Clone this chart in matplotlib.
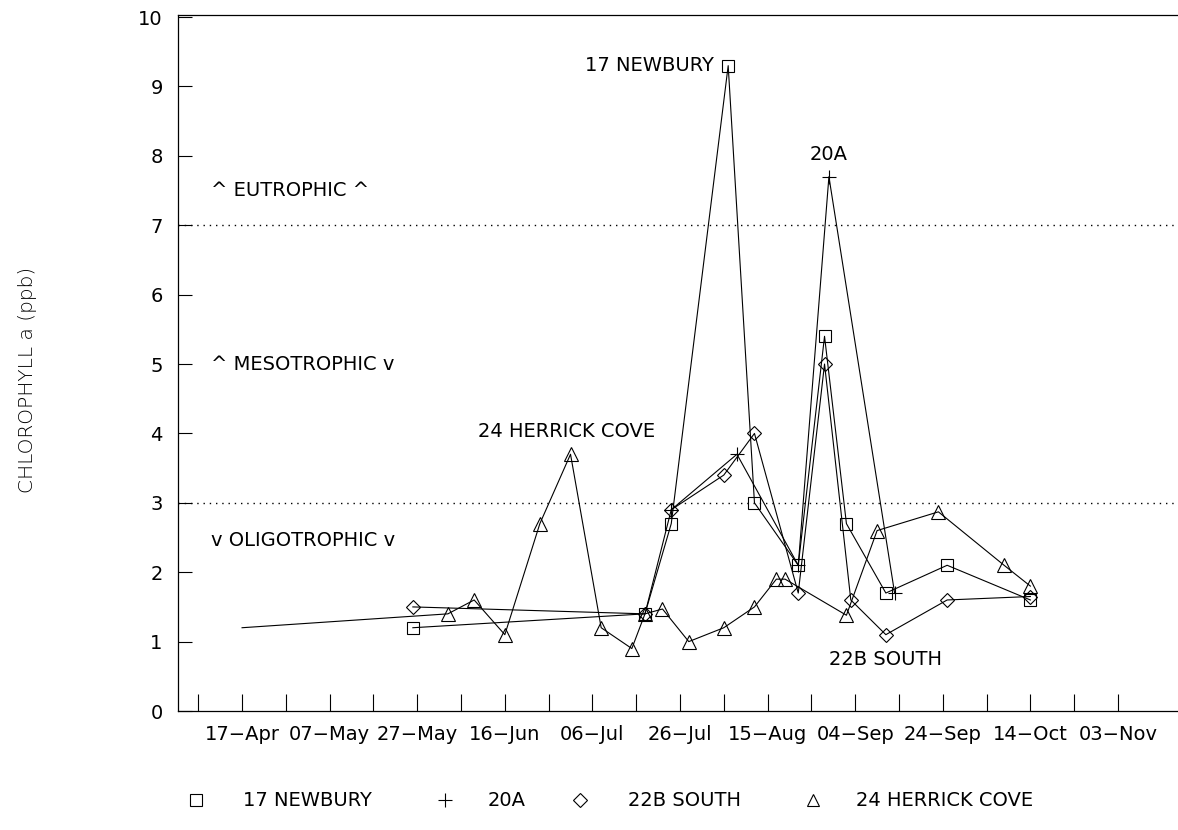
import numpy as np
import matplotlib
matplotlib.use("Agg")
import matplotlib.pyplot as plt
import matplotlib.dates as mdates
from matplotlib.transforms import blended_transform_factory

plt.rcParams['font.family'] = ['DejaVu Sans']

YEAR = '1990'

# ---------------- data ----------------
newbury_dates = ['05-26', '07-18', '07-24', '08-06', '08-12', '08-22', '08-28',
                 '09-02', '09-11', '09-25', '10-14']
newbury_vals = [1.2, 1.4, 2.7, 9.3, 3.0, 2.1, 5.4, 2.7, 1.7, 2.1, 1.6]

a20_dates = ['07-24', '08-08', '08-22', '08-29', '09-13']
a20_vals = [2.9, 3.7, 2.1, 7.7, 1.7]

south_dates = ['05-26', '07-18', '07-24', '08-05', '08-12', '08-22', '08-28',
               '09-03', '09-11', '09-25', '10-14']
south_vals = [1.5, 1.4, 2.9, 3.4, 4.0, 1.7, 5.0, 1.6, 1.1, 1.6, 1.65]

herrick_dates = ['04-17', '06-03', '06-09', '06-16', '06-24', '07-01', '07-08',
                 '07-15', '07-18', '07-22', '07-28', '08-05', '08-12', '08-17',
                 '08-19', '09-02', '09-09', '09-23', '10-08', '10-14']
herrick_vals = [1.2, 1.4, 1.6, 1.1, 2.7, 3.7, 1.2, 0.9, 1.4, 1.47, 1.0, 1.2,
                1.5, 1.9, 1.9, 1.38, 2.6, 2.87, 2.1, 1.8]

series_names = ['17 NEWBURY', '20A', '22B SOUTH', '24 HERRICK COVE']

tick_dates = ['04-17', '05-07', '05-27', '06-16', '07-06', '07-26', '08-15',
              '09-04', '09-24', '10-14', '11-03']
tick_labels = ['17\u2212Apr', '07\u2212May', '27\u2212May', '16\u2212Jun',
               '06\u2212Jul', '26\u2212Jul', '15\u2212Aug', '04\u2212Sep',
               '24\u2212Sep', '14\u2212Oct', '03\u2212Nov']

y_ticks = list(range(0, 11))
trophic_levels = [7, 3]
trophic_labels = ['^ EUTROPHIC ^', '^ MESOTROPHIC v', 'v OLIGOTROPHIC v']
trophic_label_y = [7.5, 5.0, 2.45]


def to_dates(lst):
    return np.array(['%s-%s' % (YEAR, s) for s in lst], dtype='datetime64[D]')


# ---------------- figure ----------------
W, H = 1178, 830
fig = plt.figure(figsize=(W / 100, H / 100), dpi=100)
ax_left, ax_right, ax_top, ax_bot = 178, 1178, 15, 711
ax = fig.add_axes([ax_left / W, 1 - ax_bot / H,
                   (ax_right - ax_left) / W, (ax_bot - ax_top) / H])

x0 = np.datetime64(YEAR + '-04-17')
px_per_day = 4.38
xmin = x0 + np.timedelta64(int(round(-(242 - ax_left) / px_per_day * 24)), 'h')
xmax = x0 + np.timedelta64(int(round((ax_right - 242) / px_per_day * 24)), 'h')
ax.set_xlim(mdates.date2num(xmin), mdates.date2num(xmax))
ax.set_ylim(0, 10.03)

lw = 0.8
common = dict(color='black', lw=lw, mec='black', mfc='none', mew=0.8)
ax.plot(to_dates(newbury_dates), newbury_vals, marker='s', ms=9, **common)
ax.plot(to_dates(a20_dates), a20_vals, marker='+', ms=10, **common)
ax.plot(to_dates(south_dates), south_vals, marker='D', ms=7, **common)
ax.plot(to_dates(herrick_dates), herrick_vals, marker='^', ms=10,
        markevery=list(range(1, len(herrick_vals))), **common)

for lvl in trophic_levels:
    ax.axhline(lvl, color='black', lw=1.0, ls=(0, (1, 3.5)))

# spines / ticks
ax.spines['right'].set_visible(False)
for s in ['left', 'bottom', 'top']:
    ax.spines[s].set_linewidth(0.9)

FS = 14
ax.set_xticks(mdates.date2num(to_dates(tick_dates)))
ax.set_xticklabels(tick_labels, fontsize=FS)
minor = np.arange(x0 - np.timedelta64(10, 'D'), to_dates(['11-04'])[0],
                  np.timedelta64(10, 'D'))
ax.set_xticks(mdates.date2num(minor), minor=True)
ax.tick_params(axis='x', which='both', direction='in', length=12, width=0.8,
               pad=10, top=False)
ax.set_yticks(y_ticks)
ax.set_yticklabels([str(v) for v in y_ticks], fontsize=FS)
ax.tick_params(axis='y', direction='in', length=10, width=0.8, pad=11)

# trophic labels
tr = blended_transform_factory(ax.transAxes, ax.transData)
for lab, yv in zip(trophic_labels, trophic_label_y):
    ax.text(0.033, yv, lab, transform=tr, fontsize=FS, ha='left', va='center')

# annotations near peaks
ax.annotate(series_names[0], xy=(mdates.date2num(to_dates([newbury_dates[3]])[0]), newbury_vals[3]),
            xytext=(-14, 0), textcoords='offset pixels', ha='right', va='center', fontsize=FS)
ax.annotate(series_names[1], xy=(mdates.date2num(to_dates([a20_dates[3]])[0]), a20_vals[3]),
            xytext=(0, 22), textcoords='offset pixels', ha='center', va='center', fontsize=FS)
ax.annotate(series_names[2], xy=(mdates.date2num(to_dates([south_dates[8]])[0]), south_vals[8]),
            xytext=(0, -25), textcoords='offset pixels', ha='center', va='center', fontsize=FS)
ax.annotate(series_names[3], xy=(mdates.date2num(to_dates([herrick_dates[5]])[0]), herrick_vals[5]),
            xytext=(-4, 23), textcoords='offset pixels', ha='center', va='center', fontsize=FS)

# y label
fig.text(28 / W, 1 - 380 / H, 'CHLOROPHYLL a (ppb)', rotation=90, ha='center',
         va='center', fontsize=14.5, fontweight='light')

# manual legend at bottom (overlay in pixel coordinates)
lax = fig.add_axes([0, 0, 1, 1], facecolor='none')
lax.set_xlim(0, W)
lax.set_ylim(H, 0)
lax.axis('off')
leg_markers = ['s', '+', 'D', '^']
leg_ms = [8, 10, 7, 9]
leg_mx = [196, 445, 580, 813]
leg_tx = [243, 488, 628, 856]
leg_y = 800
for m, ms, mx, tx, name in zip(leg_markers, leg_ms, leg_mx, leg_tx, series_names):
    lax.plot([mx], [leg_y], marker=m, ms=ms, mfc='none', mec='black', mew=0.8,
             ls='none', color='black')
    lax.text(tx, leg_y, name, ha='left', va='center', fontsize=FS)

fig.savefig('out.png', dpi=100)
